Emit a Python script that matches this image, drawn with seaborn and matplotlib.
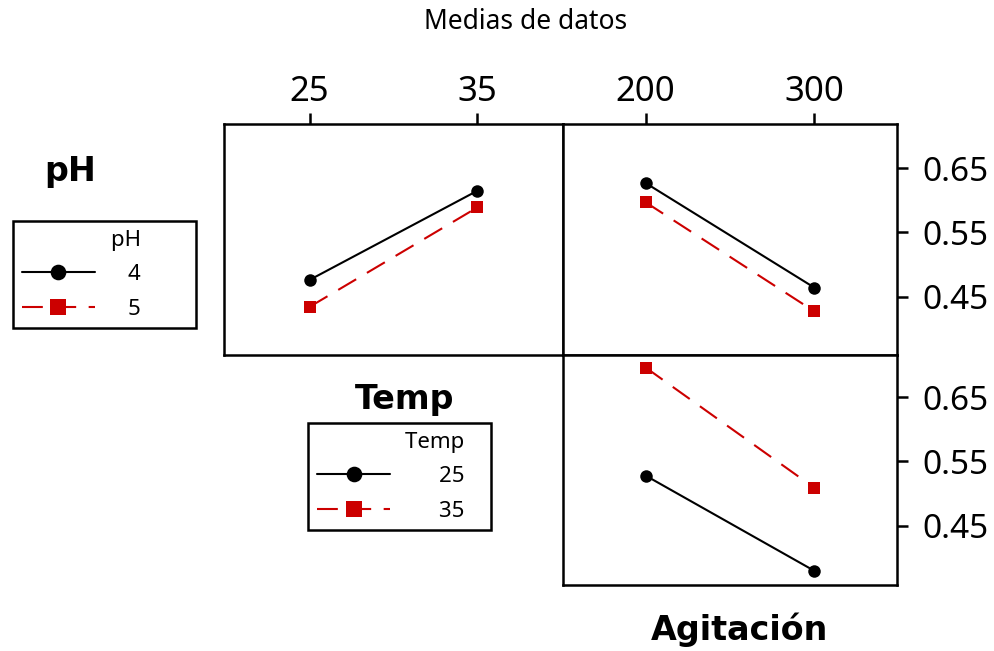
import pandas as pd
import seaborn as sns
import matplotlib.pyplot as plt

# niveles de los factores
temp_levels = [25, 35]
agit_levels = [200, 300]
ph_levels = ["4", "5"]
temp_groups = ["25", "35"]

# medias
ph4_by_temp = [0.476, 0.615]
ph5_by_temp = [0.434, 0.589]
ph4_by_agit = [0.627, 0.464]
ph5_by_agit = [0.597, 0.427]
t25_by_agit = [0.528, 0.380]
t35_by_agit = [0.696, 0.509]

RED = "#cc0000"


def long_frame(xname, xvals, gname, groups, series):
    rows = []
    for g, vals in zip(groups, series):
        for x, v in zip(xvals, vals):
            rows.append({xname: x, gname: g, "media": v})
    return pd.DataFrame(rows)


def draw(ax, df, x, group, groups):
    sns.lineplot(data=df, x=x, y="media", hue=group, style=group,
                 hue_order=groups, style_order=groups,
                 palette={groups[0]: "black", groups[1]: RED},
                 markers={groups[0]: "o", groups[1]: "s"},
                 dashes={groups[0]: "", groups[1]: (10, 6)},
                 markersize=9, markeredgewidth=0, linewidth=1.5,
                 legend=False, ax=ax)
    ax.set_xlabel("")
    ax.set_ylabel("")
    for s in ax.spines.values():
        s.set_linewidth(1.8)
        s.set_color("black")


def main():
    sns.set_style("white")
    plt.rcParams["font.family"] = ["Noto Sans", "DejaVu Sans"]
    for k in ("text.color", "xtick.color", "ytick.color", "axes.labelcolor"):
        plt.rcParams[k] = "black"

    df_tl = long_frame("Temp", temp_levels, "pH", ph_levels, [ph4_by_temp, ph5_by_temp])
    df_tr = long_frame("Agitacion", agit_levels, "pH", ph_levels, [ph4_by_agit, ph5_by_agit])
    df_br = long_frame("Agitacion", agit_levels, "Temp", temp_groups, [t25_by_agit, t35_by_agit])

    fig = plt.figure(figsize=(9.95, 6.51), dpi=100)
    ax_tl = fig.add_axes([0.2251, 0.4547, 0.3407, 0.3548])
    ax_tr = fig.add_axes([0.5658, 0.4547, 0.3357, 0.3548])
    ax_br = fig.add_axes([0.5658, 0.1014, 0.3357, 0.3533])

    draw(ax_tl, df_tl, "Temp", "pH", ph_levels)
    draw(ax_tr, df_tr, "Agitacion", "pH", ph_levels)
    draw(ax_br, df_br, "Agitacion", "Temp", temp_groups)

    yt = [0.45, 0.55, 0.65]
    ax_tl.set_xlim(19.9, 40.1)
    ax_tr.set_xlim(151, 349)
    ax_br.set_xlim(151, 349)
    ax_tl.set_ylim(0.359, 0.719)
    ax_tr.set_ylim(0.359, 0.719)
    ax_br.set_ylim(0.358, 0.7155)

    tick_kw = dict(direction="out", length=8, width=1.8, color="black", labelcolor="black")
    for ax, xt in [(ax_tl, temp_levels), (ax_tr, agit_levels)]:
        ax.set_xticks(xt)
        ax.set_xticklabels([str(v) for v in xt], fontsize=25)
        ax.xaxis.tick_top()
        ax.tick_params(axis="x", top=True, bottom=False, pad=3, **tick_kw)
    ax_br.set_xticks([])

    ax_tl.set_yticks([])
    for ax in (ax_tr, ax_br):
        ax.set_yticks(yt)
        ax.set_yticklabels(["%.2f" % v for v in yt], fontsize=24)
        ax.yaxis.tick_right()
        ax.tick_params(axis="y", right=True, left=False, pad=10, **tick_kw)

    fig.text(0.5285, 0.966, "Medias de datos", ha="center", va="center", fontsize=19)
    bold = dict(ha="center", va="center", fontsize=24, fontweight="bold", family="DejaVu Sans")
    fig.text(0.0704, 0.7358, "pH", **bold)
    fig.text(0.407, 0.3856, "Temp", **bold)
    fig.text(0.7437, 0.0323, "Agitación", **bold)

    leg_kw = dict(loc="upper left", bbox_transform=fig.transFigure, alignment="right",
                  fontsize=16, title_fontsize=16, handlelength=3.3, frameon=True,
                  fancybox=False, edgecolor="black", markerscale=1.25,
                  labelspacing=0.6, borderpad=0.4, borderaxespad=0)
    pad1 = " " * 8
    pad2 = " " * 3
    leg1 = fig.legend(handles=ax_tl.lines[:2], labels=[v + pad1 for v in ph_levels],
                      title="pH" + pad1, bbox_to_anchor=(0.013, 0.6605),
                      handletextpad=1.5, **leg_kw)
    leg2 = fig.legend(handles=ax_br.lines[:2], labels=[v + pad2 for v in temp_groups],
                      title="Temp" + pad2, bbox_to_anchor=(0.3095, 0.3502),
                      handletextpad=2.2, **leg_kw)
    for leg in (leg1, leg2):
        leg.get_frame().set_linewidth(1.8)
        leg.get_frame().set_alpha(None)

    fig.savefig("out.png", dpi=100)


if __name__ == "__main__":
    main()
